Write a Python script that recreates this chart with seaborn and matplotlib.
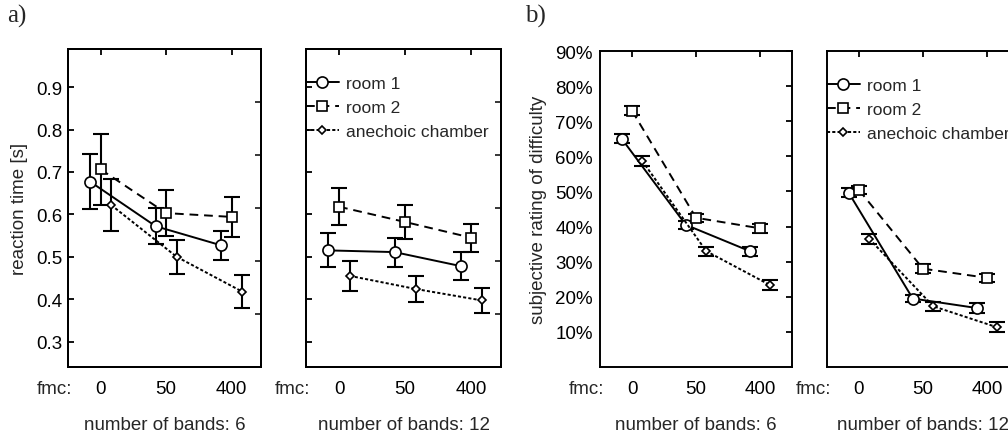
import numpy as np
import seaborn as sns
import matplotlib.pyplot as plt
from matplotlib.ticker import FuncFormatter

# data
fmc = ["0", "50", "400"]
conditions = ["room 1", "room 2", "anechoic chamber"]

# a) reaction time [s]
rt_bands6 = {
    "room 1": [0.677, 0.572, 0.527],
    "room 2": [0.706, 0.603, 0.594],
    "anechoic chamber": [0.622, 0.500, 0.418],
}
rt_bands6_err = {
    "room 1": [0.065, 0.042, 0.034],
    "room 2": [0.084, 0.055, 0.047],
    "anechoic chamber": [0.062, 0.040, 0.040],
}
rt_bands12 = {
    "room 1": [0.515, 0.511, 0.478],
    "room 2": [0.618, 0.582, 0.545],
    "anechoic chamber": [0.455, 0.424, 0.397],
}
rt_bands12_err = {
    "room 1": [0.040, 0.034, 0.033],
    "room 2": [0.043, 0.040, 0.033],
    "anechoic chamber": [0.035, 0.030, 0.030],
}

# b) subjective rating of difficulty [%]
diff_bands6 = {
    "room 1": [65.0, 40.5, 33.0],
    "room 2": [73.0, 42.5, 39.5],
    "anechoic chamber": [58.7, 33.0, 23.3],
}
diff_bands6_err = {
    "room 1": [1.3, 1.2, 1.3],
    "room 2": [1.2, 1.2, 1.2],
    "anechoic chamber": [1.5, 1.3, 1.4],
}
diff_bands12 = {
    "room 1": [49.6, 19.5, 16.8],
    "room 2": [50.4, 28.0, 25.4],
    "anechoic chamber": [36.5, 17.3, 11.3],
}
diff_bands12_err = {
    "room 1": [1.3, 1.0, 1.3],
    "room 2": [1.2, 1.2, 1.2],
    "anechoic chamber": [1.4, 1.3, 1.4],
}

offsets = {"room 1": -0.16, "room 2": 0.0, "anechoic chamber": 0.16}
markers = {"room 1": "o", "room 2": "s", "anechoic chamber": "D"}
msizes = {"room 1": 8.0, "room 2": 6.8, "anechoic chamber": 4.5}
lstyles = {"room 1": "-", "room 2": (0, (4.5, 3)), "anechoic chamber": (0, (1.6, 1.1))}

sns.set_style("white")
plt.rcParams["font.family"] = ["Liberation Sans", "DejaVu Sans"]
plt.rcParams["font.size"] = 13.5
plt.rcParams["axes.linewidth"] = 1.4
plt.rcParams["axes.edgecolor"] = "black"

fig = plt.figure(figsize=(10.08, 4.39), dpi=100)
W, H = 1008, 439


def add_ax(left, right, top, bottom):
    return fig.add_axes([left / W, 1 - bottom / H, (right - left) / W, (bottom - top) / H])


def draw_panel(ax, vals, errs):
    xbase = np.arange(len(fmc))
    for c in conditions:
        x = xbase + offsets[c]
        ax.errorbar(x, vals[c], yerr=errs[c], fmt="none", ecolor="black",
                    elinewidth=1.5, capsize=5.5, capthick=1.5, zorder=2)
    for i, c in enumerate(conditions):
        x = xbase + offsets[c]
        sns.lineplot(x=x, y=vals[c], ax=ax, color="black", linewidth=1.4,
                     linestyle=lstyles[c], marker=markers[c], markersize=msizes[c],
                     markerfacecolor="white", markeredgecolor="black",
                     markeredgewidth=1.2, label=c, legend=False, zorder=3 + i)
    ax.set_xticks(xbase)
    ax.set_xticklabels(fmc)
    ax.tick_params(direction="in", length=4, width=1.3, top=True, pad=9,
                   labelsize=13.5, colors="black")
    ax.annotate("fmc:", xy=(0.02, 0), xycoords="axes fraction", xytext=(0, -9),
                textcoords="offset points", ha="right", va="top", fontsize=13.5)
    for s in ax.spines.values():
        s.set_color("black")


def add_legend(ax):
    ax.legend(loc="upper left", bbox_to_anchor=(0.0, 0.915), frameon=False,
              borderpad=0, borderaxespad=0, handlelength=1.9, handletextpad=0.4,
              labelspacing=0.5, fontsize=12.5)


# ---- a) reaction time ----
ax1 = add_ax(68, 261, 50, 368)
ax2 = add_ax(306, 501, 50, 368)
for ax, vals, errs, nb in [(ax1, rt_bands6, rt_bands6_err, 6),
                           (ax2, rt_bands12, rt_bands12_err, 12)]:
    draw_panel(ax, vals, errs)
    ax.set_xlim(-0.5, 2.45)
    ax.set_ylim(0.24, 0.99)
    ax.set_yticks([0.3, 0.4, 0.5, 0.6, 0.7, 0.8, 0.9])
    ax.tick_params(axis="y", right=False, pad=4)
    ax.set_xlabel(f"number of bands: {nb}", labelpad=14)
    twin = ax.twinx()
    twin.set_ylim(0, 6)
    twin.set_yticks([1, 2, 3, 4, 5])
    twin.tick_params(direction="in", length=4, width=1.3, labelright=False)
ax1.set_ylabel("reaction time [s]", labelpad=6)
ax1.yaxis.set_major_formatter(FuncFormatter(lambda v, p: f"{v:.1f}"))
ax2.tick_params(axis="y", labelleft=False)
add_legend(ax2)

# ---- b) subjective rating of difficulty ----
ax3 = add_ax(600, 792, 52, 368)
ax4 = add_ax(827, 1019, 52, 368)
for ax, vals, errs, nb in [(ax3, diff_bands6, diff_bands6_err, 6),
                           (ax4, diff_bands12, diff_bands12_err, 12)]:
    draw_panel(ax, vals, errs)
    ax.set_xlim(-0.5, 2.5)
    ax.set_ylim(0, 90)
    ax.set_yticks(range(10, 100, 10))
    ax.tick_params(axis="y", right=True, pad=5)
    ax.set_xlabel(f"number of bands: {nb}", labelpad=14)
ax3.yaxis.set_major_formatter(FuncFormatter(lambda v, p: f"{v:.0f}%"))
ax3.set_ylabel("subjective rating of difficulty", labelpad=6)
ax4.tick_params(axis="y", labelleft=False)
add_legend(ax4)

fig.text(7 / W, 1 - 5 / H, "a)", family=["Liberation Serif"], fontsize=18, va="top")
fig.text(525 / W, 1 - 5 / H, "b)", family=["Liberation Serif"], fontsize=18, va="top")

fig.savefig("out.png", dpi=100)
